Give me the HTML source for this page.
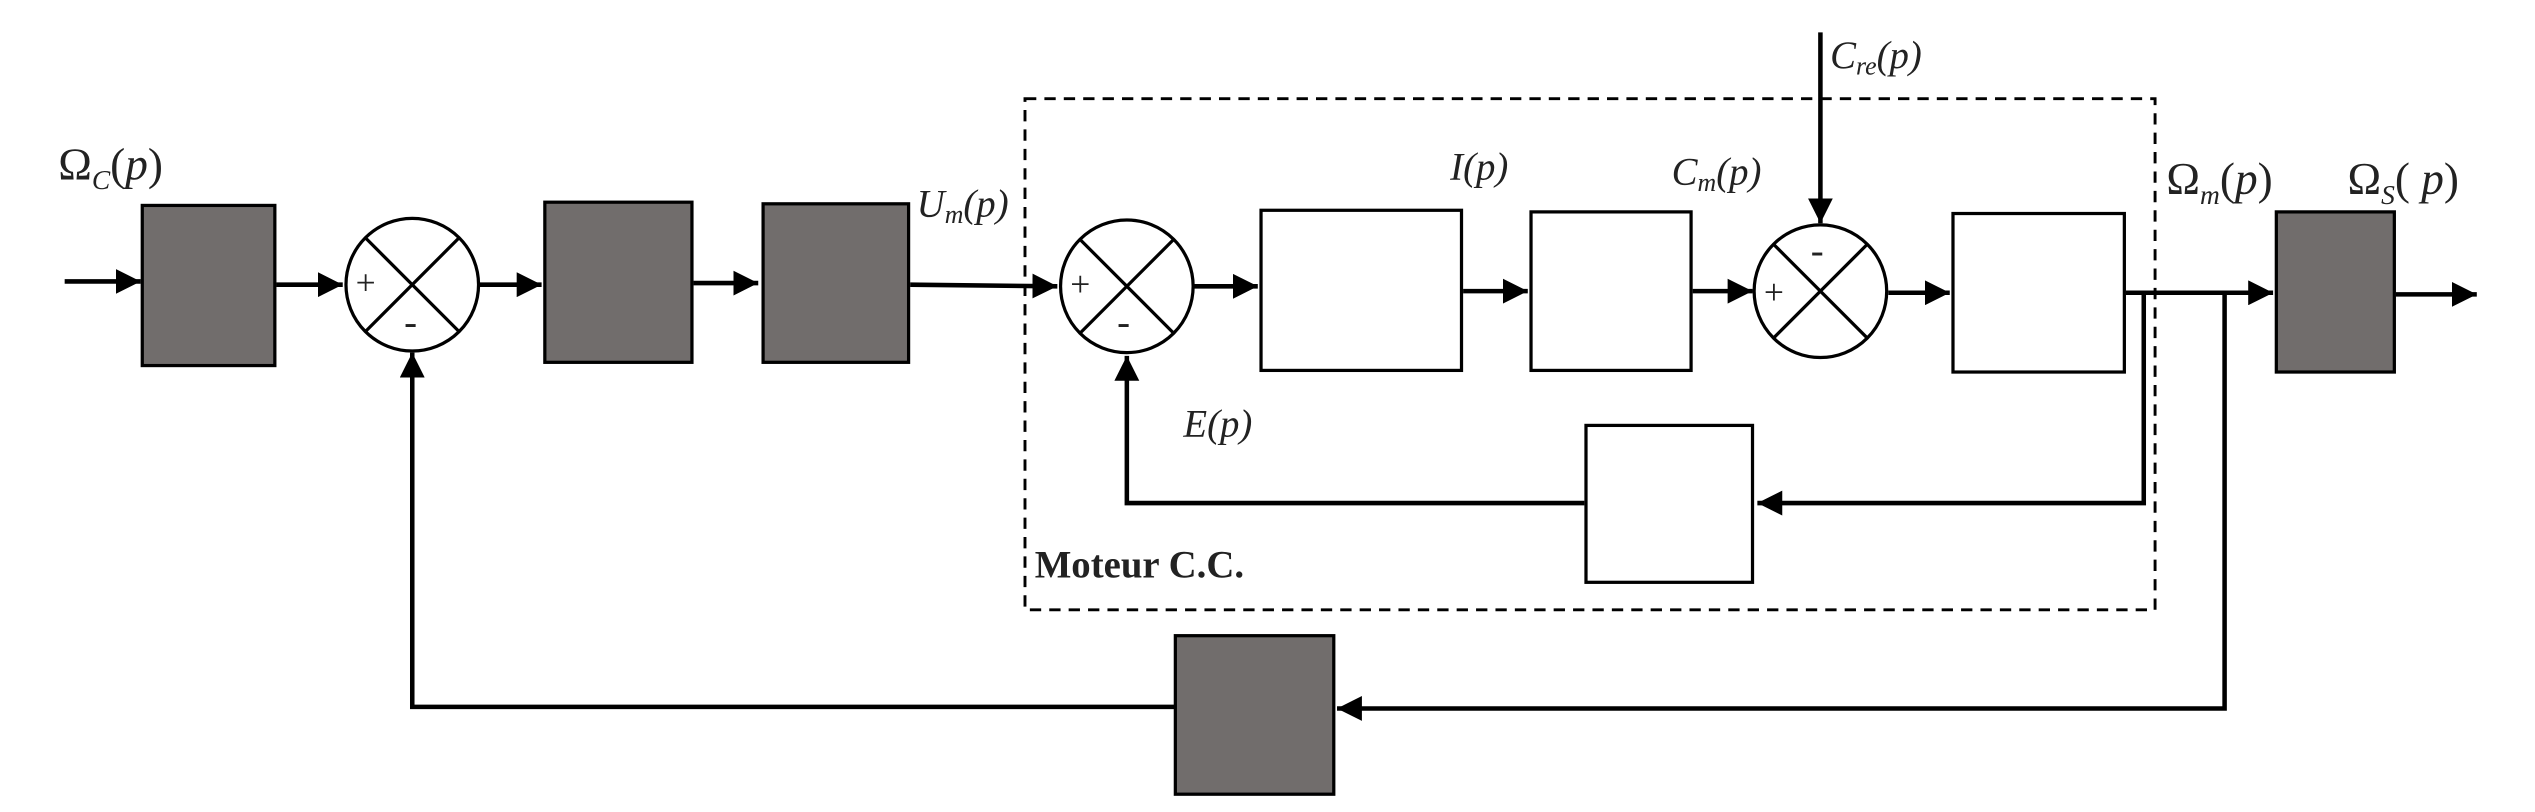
<!DOCTYPE html>
<html><head><meta charset="utf-8"><style>
html,body{margin:0;padding:0;background:#fff;}
svg{display:block;}
text{font-family:"Liberation Serif",serif;fill:#222;}
</style></head><body>
<svg width="2535" height="812" viewBox="0 0 1568 502" preserveAspectRatio="none" xmlns="http://www.w3.org/2000/svg">
<defs>
<marker id="ah" viewBox="0 0 10 10" refX="10" refY="5" markerWidth="5.5" markerHeight="5.5" orient="auto" markerUnits="strokeWidth"><path d="M0,0 L10,5 L0,10 z" fill="#000"/></marker>
</defs>
<g stroke="#000" stroke-width="2.8" fill="none">
<rect x="634" y="61" width="699" height="316" stroke-dasharray="7,5" stroke-width="1.8"/>
<line x1="40" y1="174" x2="87" y2="174" marker-end="url(#ah)"/>
<line x1="171" y1="176" x2="212" y2="176" marker-end="url(#ah)"/>
<line x1="296" y1="176" x2="335" y2="176" marker-end="url(#ah)"/>
<line x1="429" y1="175" x2="469" y2="175" marker-end="url(#ah)"/>
<line x1="563" y1="176" x2="654" y2="177" marker-end="url(#ah)"/>
<line x1="738" y1="177" x2="778" y2="177" marker-end="url(#ah)"/>
<line x1="905" y1="180" x2="945" y2="180" marker-end="url(#ah)"/>
<line x1="1047" y1="180" x2="1084" y2="180" marker-end="url(#ah)"/>
<line x1="1126" y1="20" x2="1126" y2="138" marker-end="url(#ah)"/>
<line x1="1168" y1="181" x2="1206" y2="181" marker-end="url(#ah)"/>
<line x1="1315" y1="181" x2="1406" y2="181" marker-end="url(#ah)"/>
<line x1="1482" y1="182" x2="1532" y2="182" marker-end="url(#ah)"/>
<polyline points="1326,181 1326,311 1087,311" marker-end="url(#ah)"/>
<polyline points="980,311 697,311 697,220" marker-end="url(#ah)"/>
<polyline points="1376,181 1376,438 827,438" marker-end="url(#ah)"/>
<polyline points="727,437 255,437 255,218" marker-end="url(#ah)"/>
</g>
<g stroke="#000" stroke-width="2" fill="#716d6c">
<rect x="88" y="127" width="82" height="99"/>
<rect x="337" y="125" width="91" height="99"/>
<rect x="472" y="126" width="90" height="98"/>
<rect x="1408" y="131" width="73" height="99"/>
<rect x="727" y="393" width="98" height="98"/>
</g>
<g stroke="#000" stroke-width="2" fill="#fff">
<rect x="780" y="130" width="124" height="99"/>
<rect x="947" y="131" width="99" height="98"/>
<rect x="1208" y="132" width="106" height="98"/>
<rect x="981" y="263" width="103" height="97"/>
</g>
<g stroke="#000" stroke-width="2" fill="#fff">
<g><ellipse cx="255" cy="176" rx="41" ry="41"/><line x1="226" y1="147" x2="284" y2="205"/><line x1="284" y1="147" x2="226" y2="205"/></g>
<g><ellipse cx="697" cy="177" rx="41" ry="41"/><line x1="668" y1="148" x2="726" y2="206"/><line x1="726" y1="148" x2="668" y2="206"/></g>
<g><ellipse cx="1126" cy="180" rx="41" ry="41"/><line x1="1097" y1="151" x2="1155" y2="209"/><line x1="1155" y1="151" x2="1097" y2="209"/></g>
</g>
<g font-size="22">
<text x="220" y="182">+</text><text x="250" y="207" font-size="24">-</text>
<text x="662" y="183">+</text><text x="691" y="207" font-size="24">-</text>
<text x="1091" y="188">+</text><text x="1120" y="163" font-size="24">-</text>
</g>
<g font-size="28">
<text x="36" y="111">Ω<tspan font-size="17" dy="6" font-style="italic">C</tspan><tspan dy="-6">(</tspan><tspan font-style="italic">p</tspan>)</text>
<text x="1340" y="120">Ω<tspan font-size="17" dy="6" font-style="italic">m</tspan><tspan dy="-6">(</tspan><tspan font-style="italic">p</tspan>)</text>
<text x="1452" y="120">Ω<tspan font-size="17" dy="6" font-style="italic">S</tspan><tspan dy="-6">(</tspan><tspan font-style="italic"> p</tspan>)</text>
</g>
<g font-size="24" font-style="italic">
<text x="567" y="134">U<tspan font-size="16" dy="4">m</tspan><tspan dy="-4">(p)</tspan></text>
<text x="897" y="111">I(p)</text>
<text x="1034" y="114">C<tspan font-size="16" dy="4">m</tspan><tspan dy="-4">(p)</tspan></text>
<text x="1132" y="42">C<tspan font-size="16" dy="4">re</tspan><tspan dy="-4">(p)</tspan></text>
<text x="732" y="270">E(p)</text>
</g>
<text x="640" y="357" font-size="24" font-weight="bold">Moteur C.C.</text>
</svg>
</body></html>
